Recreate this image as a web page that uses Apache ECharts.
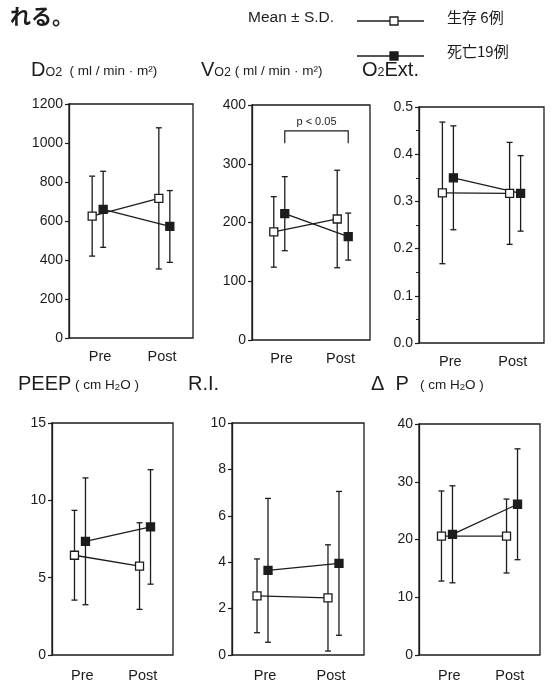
<!DOCTYPE html>
<html><head><meta charset="utf-8">
<script src="https://cdn.jsdelivr.net/npm/echarts@6/dist/echarts.min.js"></script>
<style>html,body{margin:0;padding:0;background:#fff}#c{width:554px;height:683px}</style>
</head><body><div id="c"></div>
<script>
// ---------- data ----------
const categories = ['Pre', 'Post'];

const do2SurvMean = [625, 716];   const do2SurvSD = [205, 362];
const do2DeadMean = [660, 572];   const do2DeadSD = [195, 184];

const vo2SurvMean = [184, 206];   const vo2SurvSD = [60, 83];
const vo2DeadMean = [215, 176];   const vo2DeadSD = [63, 40];

const extSurvMean = [0.318, 0.317]; const extSurvSD = [0.150, 0.108];
const extDeadMean = [0.350, 0.317]; const extDeadSD = [0.110, 0.080];

const peepSurvMean = [6.45, 5.75]; const peepSurvSD = [2.9, 2.8];
const peepDeadMean = [7.35, 8.28]; const peepDeadSD = [4.1, 3.7];

const riSurvMean = [2.55, 2.46];  const riSurvSD = [1.59, 2.29];
const riDeadMean = [3.65, 3.95];  const riDeadSD = [3.1, 3.1];

const dpSurvMean = [20.6, 20.6];  const dpSurvSD = [7.8, 6.4];
const dpDeadMean = [20.9, 26.1];  const dpDeadSD = [8.4, 9.6];

const yMaxes = [1200, 400, 0.5, 15, 10, 40];
const yIntervals = [200, 100, 0.1, 5, 2, 10];
const yDecimals = [0, 0, 1, 0, 0, 0];

// significance bracket on VO2 (Pre -> Post, deceased group): top value, leg-end value
const vo2SigBracket = [356, 335];
const vo2SigLabel = 'p < 0.05';

const legendNames = ['生存 6例', '死亡19例'];

// ---------- layout / style ----------
const FONT = '"Liberation Sans", Arial, Helvetica, sans-serif';
const CJK = '"Noto Sans CJK JP", sans-serif';
const INK = '#1c1c1c';
const grids = [
  {left: 69,  top: 104, width: 124, height: 234},
  {left: 252, top: 105, width: 118, height: 235},
  {left: 419, top: 107, width: 125, height: 236},
  {left: 52,  top: 423, width: 121, height: 235},
  {left: 232, top: 423, width: 132, height: 234},
  {left: 419, top: 424, width: 121, height: 232}
];
const labelMargins = [11, 11, 11, 13, 13, 13];
const DX = 5.5;

const panels = [
  [do2SurvMean, do2SurvSD, do2DeadMean, do2DeadSD],
  [vo2SurvMean, vo2SurvSD, vo2DeadMean, vo2DeadSD],
  [extSurvMean, extSurvSD, extDeadMean, extDeadSD],
  [peepSurvMean, peepSurvSD, peepDeadMean, peepDeadSD],
  [riSurvMean, riSurvSD, riDeadMean, riDeadSD],
  [dpSurvMean, dpSurvSD, dpDeadMean, dpDeadSD]
];

function makeRender(meanArr, filled, dx) {
  return function (params, api) {
    const i = params.dataIndex;
    const x = api.value(0), m = api.value(1), s = api.value(2);
    const c = api.coord([x, m]);
    const t = api.coord([x, m + s]);
    const b = api.coord([x, m - s]);
    const px = c[0] + dx;
    const st = {stroke: INK, lineWidth: 1.3};
    const ch = [
      {type: 'line', z2: 1, shape: {x1: px, y1: t[1], x2: px, y2: b[1]}, style: st},
      {type: 'line', z2: 1, shape: {x1: px - 3, y1: t[1], x2: px + 3, y2: t[1]}, style: st},
      {type: 'line', z2: 1, shape: {x1: px - 3, y1: b[1], x2: px + 3, y2: b[1]}, style: st}
    ];
    if (i === 0) {
      const n = api.coord([1, meanArr[1]]);
      ch.push({type: 'line', z2: 0, shape: {x1: px, y1: c[1], x2: n[0] + dx, y2: n[1]}, style: {stroke: INK, lineWidth: 1.3}});
    }
    ch.push({type: 'rect', z2: 10, shape: {x: px - 4, y: c[1] - 4, width: 8, height: 8},
      style: {fill: filled ? INK : '#fff', stroke: INK, lineWidth: 1.3}});
    return {type: 'group', children: ch};
  };
}

const xAxes = [], yAxes = [], series = [];
panels.forEach((p, gi) => {
  xAxes.push({
    type: 'category', gridIndex: gi, data: categories, boundaryGap: true,
    axisLine: {show: false, onZero: false}, axisTick: {show: false}, splitLine: {show: false},
    axisLabel: {fontSize: 14.5, color: INK, fontFamily: FONT, margin: labelMargins[gi]}
  });
  xAxes.push({type: 'value', gridIndex: gi, min: -0.43, max: 1.43, show: false,
    axisLine: {onZero: false}});
  yAxes.push({
    type: 'value', gridIndex: gi, min: 0, max: yMaxes[gi], interval: yIntervals[gi],
    position: 'left',
    axisLine: {show: true, onZero: false, lineStyle: {color: INK, width: 1.3}},
    axisTick: {show: true, length: 4, lineStyle: {color: INK, width: 1.2}},
    minorTick: gi === 2 ? {show: true, splitNumber: 2, length: 3, lineStyle: {color: INK}} : {show: false},
    splitLine: {show: false},
    axisLabel: {fontSize: 14, color: INK, fontFamily: FONT, margin: 6,
      formatter: v => v.toFixed(yDecimals[gi])}
  });
  const [sm, ss, dm, ds] = p;
  series.push({
    type: 'custom', name: legendNames[0], xAxisIndex: gi * 2 + 1, yAxisIndex: gi,
    data: categories.map((c, k) => [k, sm[k], ss[k]]),
    renderItem: makeRender(sm, false, -DX), clip: false
  });
  series.push({
    type: 'custom', name: legendNames[1], xAxisIndex: gi * 2 + 1, yAxisIndex: gi,
    data: categories.map((c, k) => [k, dm[k], ds[k]]),
    renderItem: makeRender(dm, true, DX), clip: false
  });
});

// significance bracket
series.push({
  type: 'custom', xAxisIndex: 3, yAxisIndex: 1, clip: false,
  data: [[0, 1, vo2SigBracket[0], vo2SigBracket[1]]],
  renderItem: function (params, api) {
    const a = api.coord([api.value(0), api.value(2)]);
    const b = api.coord([api.value(1), api.value(2)]);
    const l = api.coord([api.value(0), api.value(3)]);
    const x1 = a[0] + DX, x2 = b[0] + DX;
    const st = {stroke: INK, lineWidth: 1.2, fill: null};
    return {type: 'group', children: [
      {type: 'polyline', shape: {points: [[x1, l[1]], [x1, a[1]], [x2, a[1]], [x2, l[1]]]}, style: st},
      {type: 'text', style: {text: vo2SigLabel, x: (x1 + x2) / 2, y: a[1] - 3, align: 'center',
        verticalAlign: 'bottom', font: '11px ' + FONT, fill: INK}}
    ]};
  }
});

const big = {fontSize: 20, fontFamily: FONT, color: INK, verticalAlign: 'bottom'};
const sub = {fontSize: 12.5, fontFamily: FONT, color: INK, verticalAlign: 'bottom', padding: [0, 0, 1, 0]};
const unit = {fontSize: 13.5, fontFamily: FONT, color: INK, verticalAlign: 'bottom', padding: [0, 0, 1.5, 0]};
const usub = {fontSize: 9.5, fontFamily: FONT, color: INK, verticalAlign: 'bottom', padding: [0, 0, 1.5, 0]};
const rich = {b: big, s: sub, u: unit, us: usub};

function rt(x, y, text) {
  return {type: 'text', left: x, top: y, style: {text: text, rich: rich, fill: INK}};
}

const graphic = [
  {type: 'text', left: 10, top: 6, style: {text: 'れる。', font: 'bold 21px ' + CJK, fill: INK}},
  {type: 'text', left: 248, top: 10, style: {text: 'Mean ± S.D.', font: '15.5px ' + FONT, fill: INK}},
  {type: 'line', shape: {x1: 357, y1: 21, x2: 424, y2: 21}, style: {stroke: INK, lineWidth: 1.3}},
  {type: 'rect', shape: {x: 390, y: 17, width: 8, height: 8}, style: {fill: '#fff', stroke: INK, lineWidth: 1.3}},
  {type: 'text', left: 447, top: 10, style: {text: legendNames[0], font: '15px ' + CJK, fill: INK}},
  {type: 'line', shape: {x1: 357, y1: 56, x2: 424, y2: 56}, style: {stroke: INK, lineWidth: 1.3}},
  {type: 'rect', shape: {x: 390, y: 52, width: 8, height: 8}, style: {fill: INK, stroke: INK, lineWidth: 1.3}},
  {type: 'text', left: 447, top: 44, style: {text: legendNames[1], font: '15px ' + CJK, fill: INK}},
  rt(31, 60, '{b|D}{s|O2}{u|  ( ml / min · m²)}'),
  rt(201, 60, '{b|V}{s|O2}{u| ( ml / min · m²)}'),
  rt(362, 60, '{b|O}{s|2}{b|Ext.}'),
  rt(18, 374, '{b|PEEP}{u| ( cm H}{us|2}{u|O )}'),
  rt(188, 374, '{b|R.I.}'),
  rt(371, 374, '{b|Δ  P}{u|   ( cm H}{us|2}{u|O )}')
];

const chart = echarts.init(document.getElementById('c'), null, {renderer: 'canvas'});
chart.setOption({
  animation: false,
  backgroundColor: '#fff',
  grid: grids.map(g => Object.assign({show: true, borderColor: INK, borderWidth: 1.3, backgroundColor: 'transparent'}, g)),
  xAxis: xAxes,
  yAxis: yAxes,
  series: series,
  graphic: graphic
});
</script>
</body></html>
